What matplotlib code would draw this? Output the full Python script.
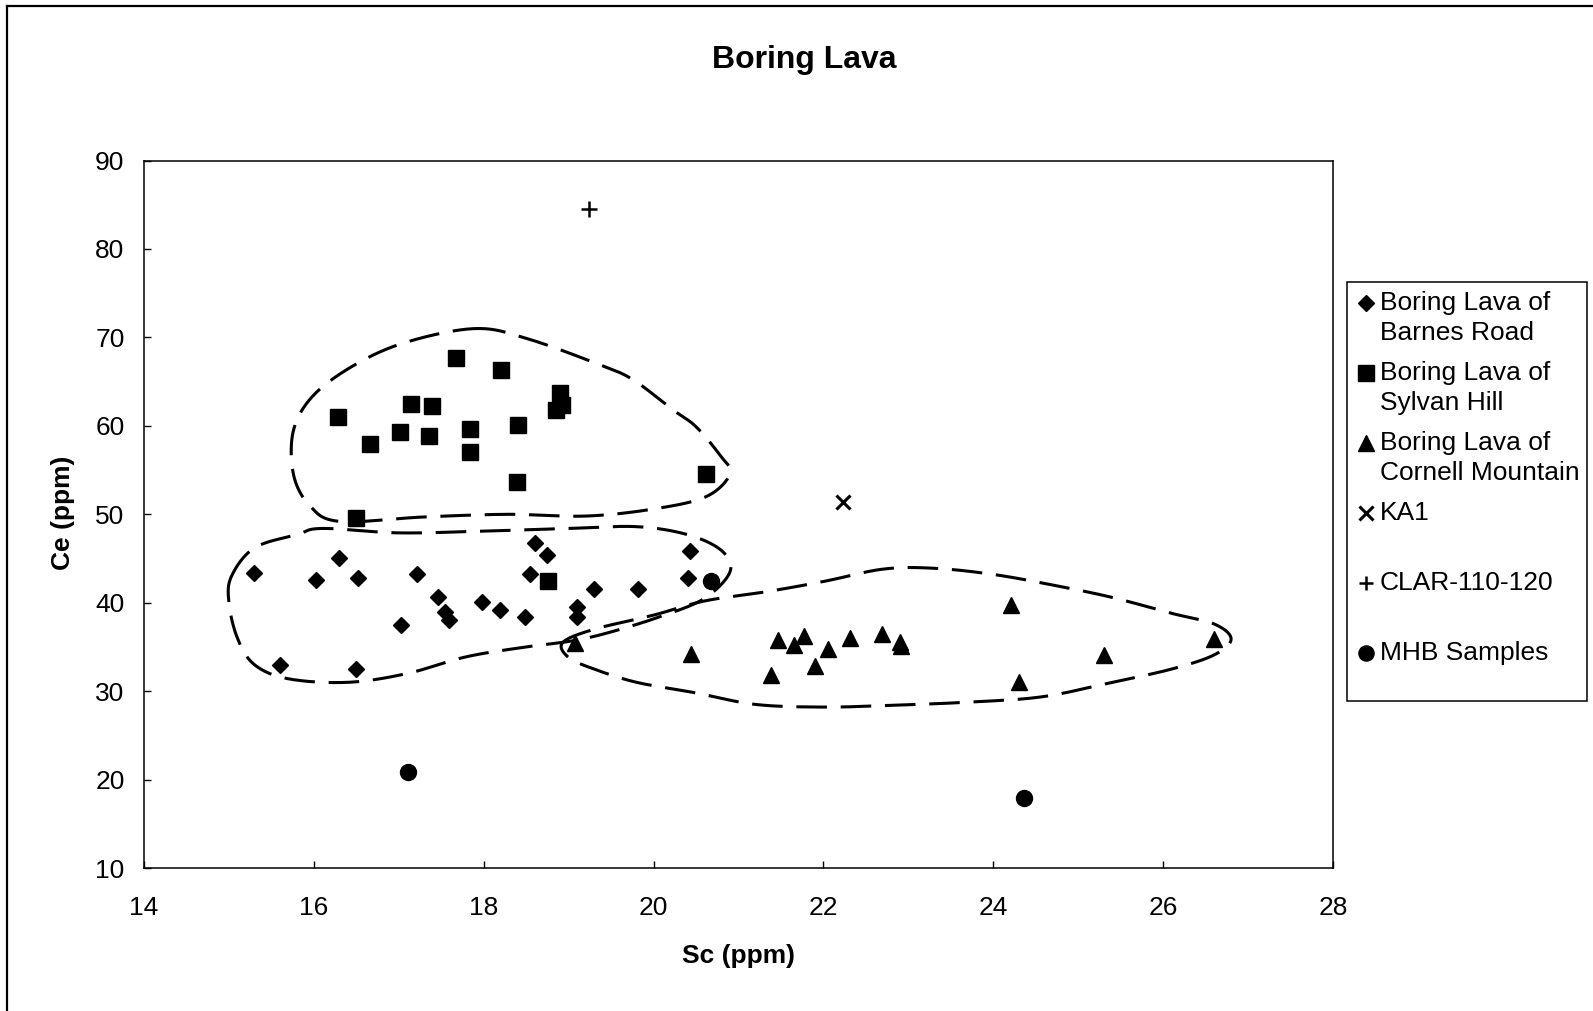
import numpy as np
import matplotlib
matplotlib.use('Agg')
import matplotlib.pyplot as plt
from matplotlib.lines import Line2D
from matplotlib.patches import Rectangle

plt.rcParams['font.family'] = ['Liberation Sans', 'DejaVu Sans']

# --- data (Sc ppm, Ce ppm) ---
barnes_sc = [15.30, 15.60, 16.02, 16.30, 16.52, 16.50, 17.03, 17.21, 17.46, 17.54,
             17.59, 17.98, 18.19, 18.49, 18.54, 18.60, 18.75, 19.10, 19.10, 19.30,
             19.82, 20.40, 20.43]
barnes_ce = [43.4, 33.0, 42.6, 45.1, 42.8, 32.5, 37.5, 43.2, 40.7, 38.9,
             38.0, 40.1, 39.2, 38.4, 43.3, 46.8, 45.4, 39.5, 38.4, 41.5,
             41.5, 42.8, 45.9]

sylvan_sc = [16.28, 16.66, 17.01, 17.14, 17.39, 17.36, 17.67, 17.84, 17.84, 18.20,
             18.40, 18.39, 18.90, 18.92, 18.85, 20.62, 16.50, 18.76]
sylvan_ce = [61.0, 57.9, 59.3, 62.5, 62.2, 58.9, 67.7, 59.6, 57.0, 66.3,
             60.1, 53.6, 63.7, 62.4, 61.8, 54.5, 49.6, 42.5]

cornell_sc = [19.08, 20.44, 21.38, 21.47, 21.65, 21.77, 21.90, 22.05, 22.31, 22.69,
              22.90, 22.91, 24.21, 24.30, 25.30, 26.60]
cornell_ce = [35.5, 34.2, 31.8, 35.8, 35.2, 36.2, 32.9, 34.8, 36.0, 36.5,
              35.6, 35.1, 39.7, 31.0, 34.1, 35.9]

ka1_sc = [22.23]
ka1_ce = [51.4]

clar_sc = [19.24]
clar_ce = [84.5]

mhb_sc = [17.11, 24.36, 20.68]
mhb_ce = [20.9, 17.9, 42.5]

# hand drawn dashed group outlines (Sc, Ce)
sylvan_outline_sc = [17.9, 18.5, 19.37, 19.76, 20.23, 20.5, 20.78, 20.9, 20.62, 20.0,
                     19.2, 18.3, 17.3, 16.3, 15.95, 15.76, 15.76, 16.0, 16.5, 17.1]
sylvan_outline_ce = [71.0, 69.9, 66.9, 65.2, 61.8, 59.9, 56.7, 54.6, 52.0, 50.6,
                     49.8, 50.0, 49.7, 49.2, 51.0, 54.5, 59.5, 63.5, 67.0, 69.5]

barnes_outline_sc = [15.03, 15.3, 15.8, 16.1, 17.0, 18.0, 19.0, 19.8, 20.4, 20.8,
                     20.9, 20.6, 20.1, 19.5, 19.05, 18.5, 17.8, 17.1, 16.4, 15.7,
                     15.3, 15.1, 15.0]
barnes_outline_ce = [43.0, 46.2, 47.7, 48.4, 47.9, 48.1, 48.4, 48.6, 47.7, 45.9,
                     43.5, 40.5, 38.5, 36.7, 35.7, 35.0, 33.9, 32.0, 31.0, 31.4,
                     33.0, 36.0, 40.0]

cornell_outline_sc = [18.93, 19.3, 20.0, 20.6, 21.3, 22.0, 22.7, 23.3, 24.0, 24.7,
                      25.4, 26.1, 26.6, 26.8, 26.6, 26.1, 25.4, 24.6, 23.8, 22.8,
                      22.0, 21.2, 20.5, 19.8, 19.3, 19.0]
cornell_outline_ce = [35.5, 37.0, 38.6, 40.2, 41.2, 42.4, 43.8, 43.9, 43.2, 42.0,
                      40.6, 38.8, 37.6, 35.9, 34.1, 32.5, 31.0, 29.4, 28.8, 28.4,
                      28.2, 28.5, 29.8, 31.0, 32.5, 33.8]

legend_labels = ['Boring Lava of\nBarnes Road', 'Boring Lava of\nSylvan Hill',
                 'Boring Lava of\nCornell Mountain', 'KA1', 'CLAR-110-120', 'MHB Samples']


def closed_curve(xs, ys, n=30):
    # closed Catmull-Rom spline through the outline points
    pts = np.column_stack([xs, ys])
    N = len(pts)
    t = np.linspace(0, 1, n, endpoint=False)[:, None]
    out = []
    for i in range(N):
        p0, p1, p2, p3 = pts[i - 1], pts[i], pts[(i + 1) % N], pts[(i + 2) % N]
        seg = 0.5 * (2 * p1 + (-p0 + p2) * t + (2 * p0 - 5 * p1 + 4 * p2 - p3) * t ** 2
                     + (-p0 + 3 * p1 - 3 * p2 + p3) * t ** 3)
        out.append(seg)
    out.append(pts[:1])
    out = np.vstack(out)
    return out[:, 0], out[:, 1]


fig = plt.figure(figsize=(15.93, 10.11), dpi=100)
ax = fig.add_axes([0.0904, 0.1414, 0.7464, 0.6998])

styles = [
    (barnes_sc, barnes_ce, dict(marker='D', ms=8.3)),
    (sylvan_sc, sylvan_ce, dict(marker='s', ms=11.5)),
    (cornell_sc, cornell_ce, dict(marker='^', ms=11.5)),
    (ka1_sc, ka1_ce, dict(marker='x', ms=10, mew=2.2)),
    (clar_sc, clar_ce, dict(marker='+', ms=11, mew=1.8)),
    (mhb_sc, mhb_ce, dict(marker='o', ms=11.5)),
]
for xs, ys, st in styles:
    ax.plot(xs, ys, ls='none', color='black', mec='black', zorder=3, **st)

for ox, oy in [(sylvan_outline_sc, sylvan_outline_ce),
               (barnes_outline_sc, barnes_outline_ce),
               (cornell_outline_sc, cornell_outline_ce)]:
    cx, cy = closed_curve(ox, oy)
    ax.plot(cx, cy, color='black', lw=2.2, dashes=(10, 4.5), zorder=2)

ax.set_xlim(14, 28)
ax.set_ylim(10, 90)
ax.set_xticks(np.arange(14, 29, 2))
ax.set_yticks(np.arange(10, 91, 10))
ax.tick_params(direction='in', length=5, width=1, labelsize=19, pad=14)
ax.tick_params(axis='x', pad=20)
for s in ax.spines.values():
    s.set_linewidth(1.1)

ax.set_xlabel('Sc (ppm)', fontsize=19, fontweight='bold', va='center')
ax.xaxis.set_label_coords(0.5, -0.1244)
ax.set_ylabel('Ce (ppm)', fontsize=19, fontweight='bold', va='center')
ax.yaxis.set_label_coords(-0.0681, 0.5018)

fig.text(0.505, 0.9405, 'Boring Lava', fontsize=23, fontweight='bold',
         ha='center', va='center')

# legend box drawn by hand so markers sit on the first text line
fig.add_artist(Rectangle((0.8456, 0.3066), 0.1506, 0.4145, transform=fig.transFigure,
                         fill=False, edgecolor='black', lw=1.1))
W, H = 1593.0, 1011.0
for i, (lab, (_, _, st)) in enumerate(zip(legend_labels, styles)):
    y = 303 + i * 70.0
    st = dict(st)
    ms = st.pop('ms') * 0.95
    fig.add_artist(Line2D([1366 / W], [1 - y / H], transform=fig.transFigure,
                          ls='none', color='black', mec='black', ms=ms, **st))
    for j, line in enumerate(lab.split('\n')):
        fig.text(1380 / W, 1 - (y + j * 29.5) / H, line, fontsize=19,
                 ha='left', va='center')

# outer frame (left and top edges of the page)
fig.add_artist(Line2D([7 / W, 7 / W], [0, 1 - 6 / H], transform=fig.transFigure,
                      color='black', lw=1.6))
fig.add_artist(Line2D([7 / W, 1], [1 - 6 / H, 1 - 6 / H], transform=fig.transFigure,
                      color='black', lw=1.6))

fig.savefig('out.png', dpi=100)
